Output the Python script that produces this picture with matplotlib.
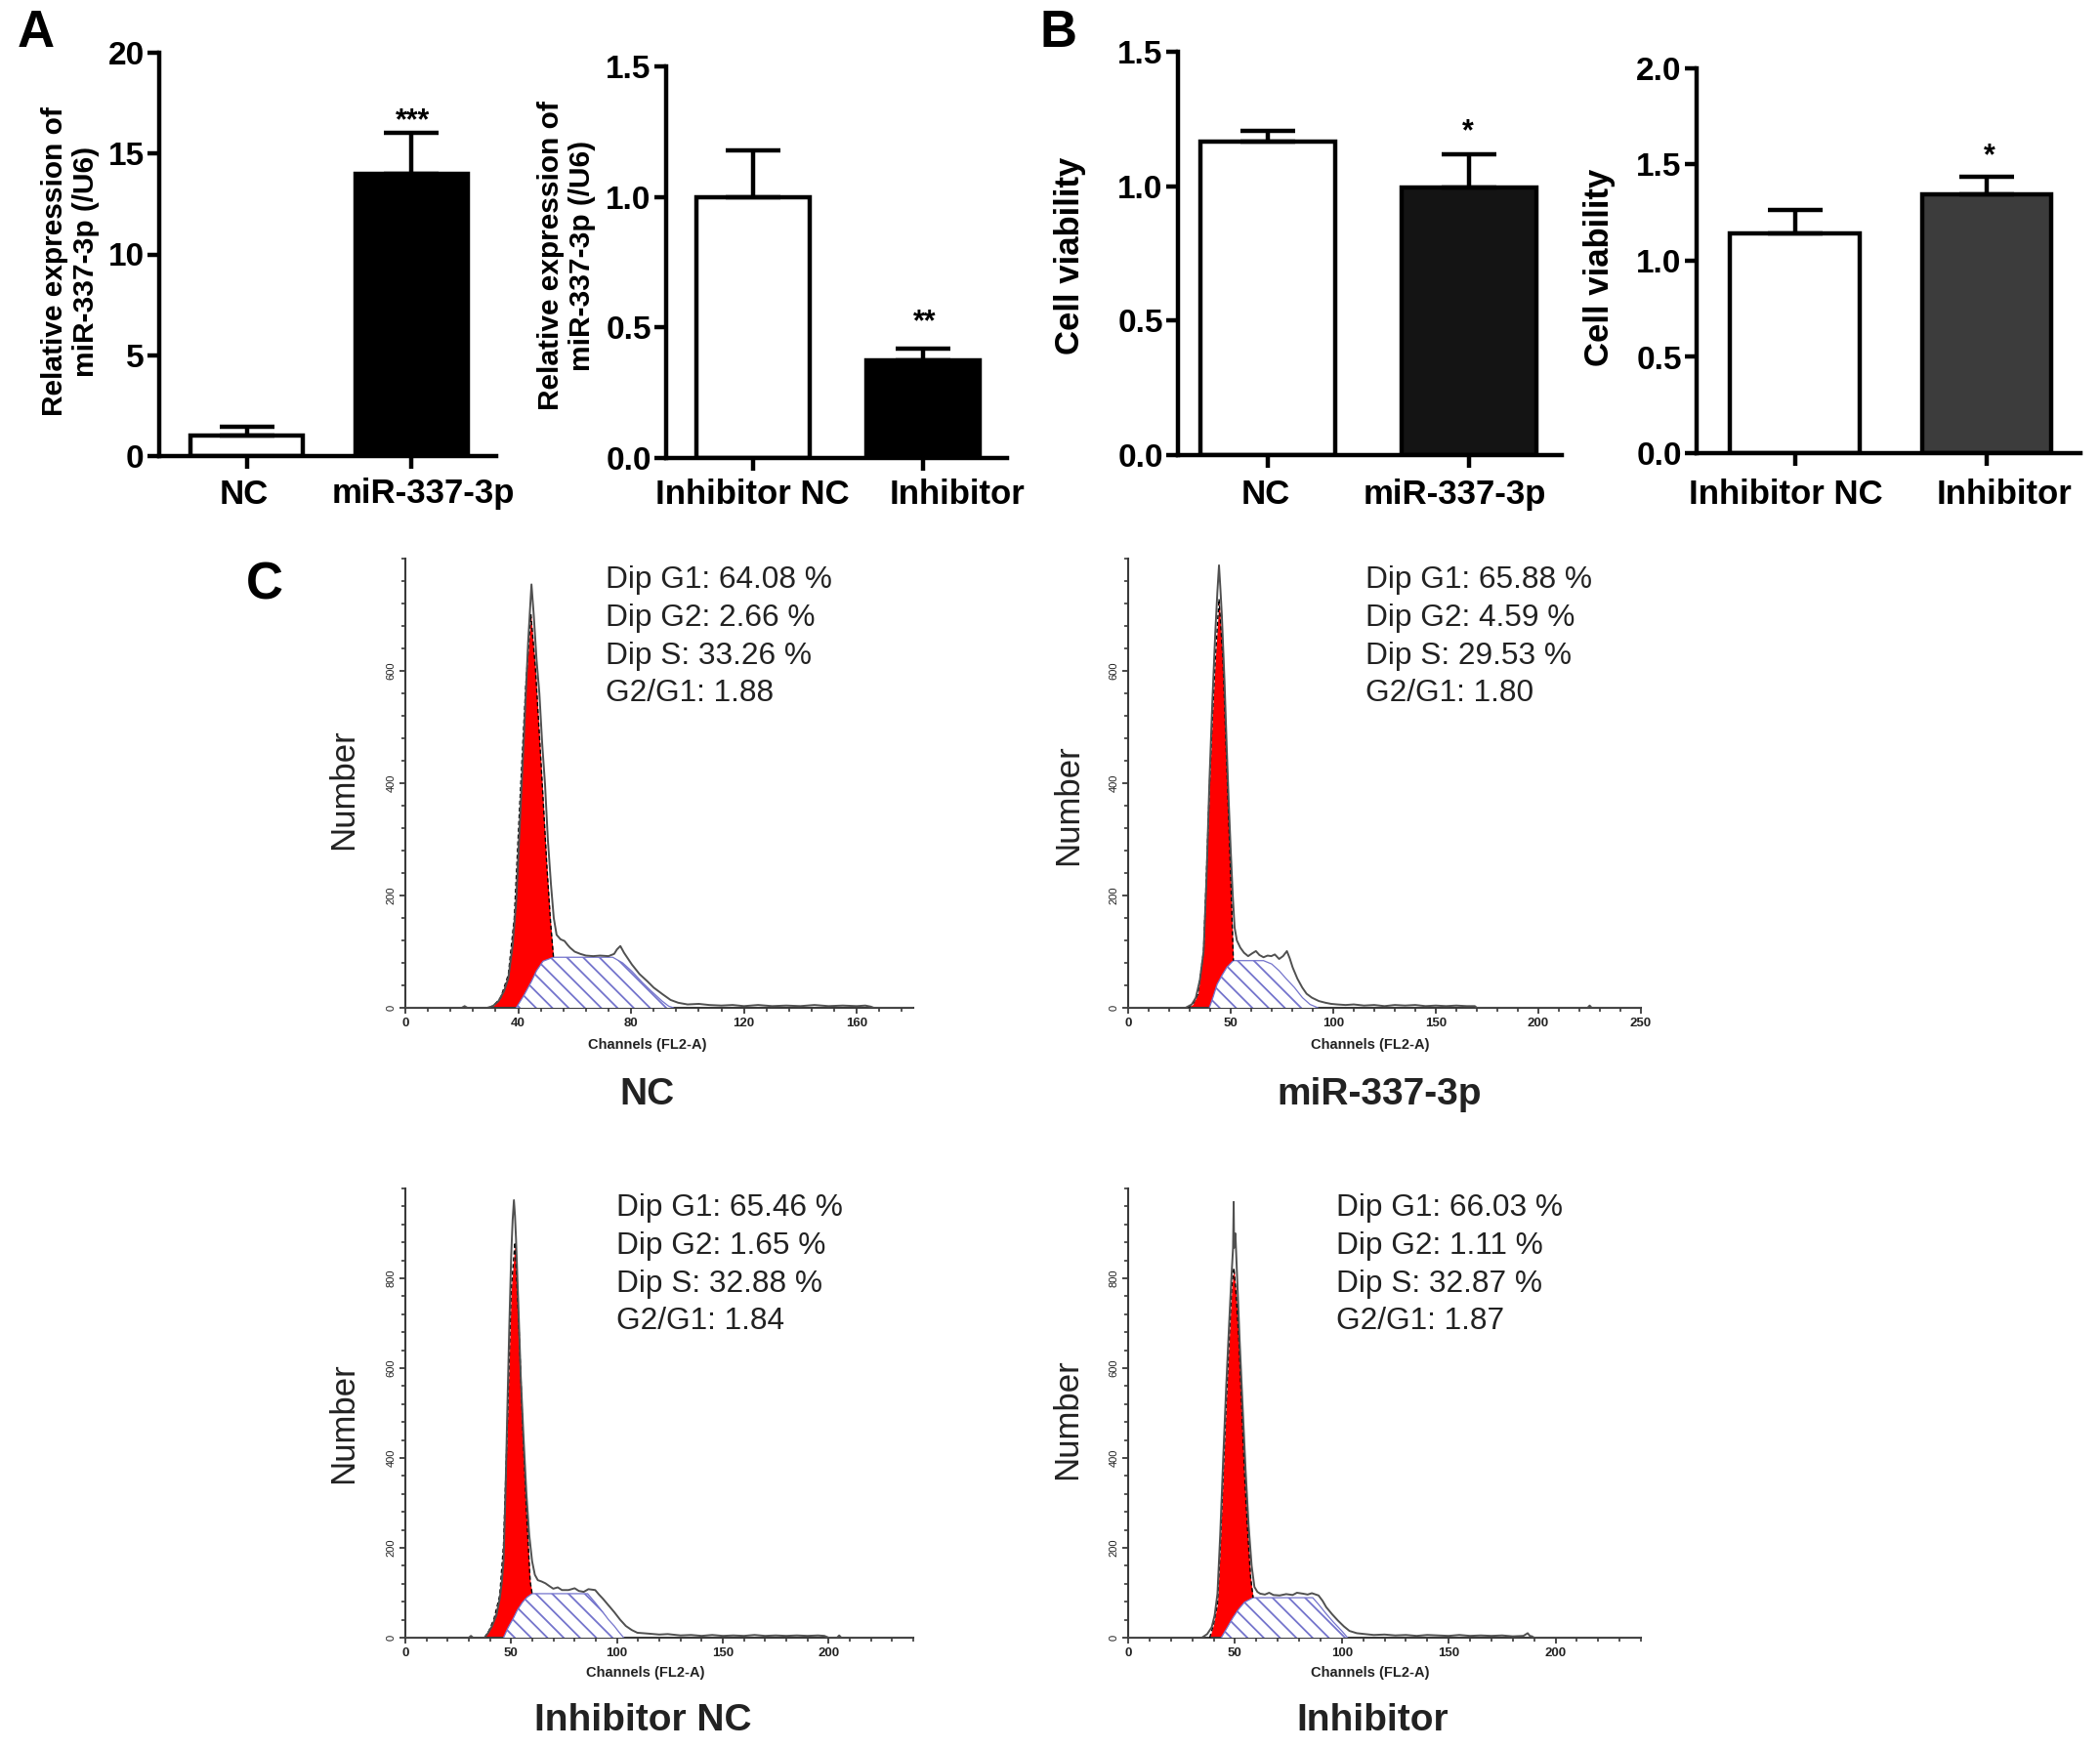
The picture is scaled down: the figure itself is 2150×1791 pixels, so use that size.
import numpy as np
import matplotlib
matplotlib.use("Agg")
import matplotlib.pyplot as plt
from matplotlib.ticker import MultipleLocator

plt.rcParams['font.family'] = ['Liberation Sans', 'DejaVu Sans']
plt.rcParams['hatch.linewidth'] = 1.3

W, H = 2150, 1791
DPI = 100

# ---------------- bar chart data ----------------
a1_labels = ["NC", "miR-337-3p"]
a1_values = [1.0, 14.0]
a1_errors = [0.45, 2.05]

a2_labels = ["Inhibitor NC", "Inhibitor"]
a2_values = [1.0, 0.375]
a2_errors = [0.18, 0.045]

b1_labels = ["NC", "miR-337-3p"]
b1_values = [1.165, 0.995]
b1_errors = [0.04, 0.125]

b2_labels = ["Inhibitor NC", "Inhibitor"]
b2_values = [1.14, 1.345]
b2_errors = [0.125, 0.09]

# ---------------- flow cytometry data ----------------
c1_obs_x = [0, 20, 21, 22, 29, 31, 33, 35, 36.5, 38, 39.3, 40.6, 42, 43.5, 44.7, 45.5, 46.5, 47.5, 48.5, 49.5, 50.5, 51.6, 52.6, 53.6, 55, 56.4, 57.5, 58.4, 60, 62, 64, 66.6, 69, 72, 74, 75, 76.2, 77.5, 80.3, 83, 85.8, 88, 91.2, 94, 96.7, 100, 104, 107.7, 112, 116, 120, 125, 130, 135, 140, 145, 150, 155, 160, 163, 165, 166, 180]
c1_obs_y = [0, 0, 3, 0, 0, 3, 12, 30, 53, 110, 190, 330, 480, 650, 754, 700, 620, 560, 470, 398, 300, 220, 160, 130, 122, 119, 112, 107, 100, 96, 93, 92, 93, 92, 96, 104, 110, 98, 77, 60, 47, 36, 24, 14, 9, 6, 7, 5, 4, 5, 3, 5, 3, 4, 3, 5, 3, 4, 3, 4, 2, 0, 0]
c1_g1_x = [29.7, 31.5, 33.8, 36.5, 38.6, 40.6, 42.7, 44.5, 46.1, 48.2, 50.2, 51.5, 52.5]
c1_g1_y = [0, 5, 18, 59, 160, 368, 576, 700, 605, 427, 249, 150, 90]
c1_s_x = [39.3, 42, 44.7, 46.5, 48.8, 52.5, 73.5, 77, 80.3, 84, 87.1, 91, 93.3, 95]
c1_s_y = [0, 22, 47, 66, 83, 90, 90, 80, 65, 45, 30, 12, 3, 0]

c2_obs_x = [0, 28, 29, 31, 33, 35, 36.8, 38.2, 39.6, 41, 42.5, 43.5, 44.3, 45, 45.7, 47, 48.1, 49, 50, 51, 51.9, 53, 54.7, 56.5, 58.5, 60.5, 62.3, 64, 66, 68, 69.8, 71.5, 73.6, 75.5, 77.4, 78.8, 80.2, 82.5, 84.9, 87, 89.6, 93, 96.2, 99, 102, 106, 110, 115, 120, 125, 130, 135, 140, 145, 150, 155, 160, 165, 169, 170, 224, 225, 226, 250]
c2_obs_y = [0, 0, 2, 6, 18, 50, 101, 230, 400, 540, 669, 740, 788, 745, 698, 580, 460, 370, 281, 200, 143, 120, 107, 98, 92, 97, 101, 94, 90, 93, 92, 95, 87, 92, 101, 88, 72, 52, 36, 25, 18, 12, 9, 7, 6, 5, 6, 4, 5, 3, 5, 4, 5, 3, 4, 3, 4, 3, 3, 0, 0, 4, 0, 0]
c2_g1_x = [29, 31.5, 34, 36.8, 38.2, 39.6, 41, 42.5, 44.3, 46.2, 48.1, 50, 51.3]
c2_g1_y = [0, 6, 24, 101, 240, 388, 510, 621, 728, 621, 430, 233, 84]
c2_s_x = [39.6, 41.5, 43.4, 45.8, 48.1, 51.3, 66, 70, 73.6, 77, 81.1, 85, 88.7, 92.5]
c2_s_y = [0, 20, 42, 58, 72, 84, 84, 78, 66, 52, 36, 18, 6, 0]

c3_obs_x = [0, 30, 31, 32, 37.4, 39, 41, 43, 44.6, 45.5, 46.4, 47.3, 48.2, 49.1, 50, 50.7, 51.3, 51.8, 52.3, 53.4, 54.5, 55.8, 57.2, 58.5, 59.9, 61.2, 62.6, 64.4, 66.2, 68, 69.9, 72, 74, 77.1, 80, 82, 84.3, 86.5, 89.7, 91.5, 93.3, 96, 98.7, 101.5, 104.2, 107, 109.6, 115, 120, 124, 130, 135, 140, 145, 150, 155, 160, 165, 170, 175, 180, 185, 190, 195, 198, 200, 204, 205, 206, 240]
c3_obs_y = [0, 0, 4, 0, 0, 10, 26, 50, 87, 120, 170, 320, 510, 690, 849, 930, 974, 940, 887, 740, 585, 450, 321, 230, 170, 140, 128, 125, 121, 115, 109, 112, 106, 106, 110, 104, 102, 108, 106, 96, 87, 72, 57, 40, 26, 17, 11, 9, 7, 8, 5, 6, 4, 6, 4, 5, 4, 6, 4, 5, 4, 5, 4, 5, 4, 0, 0, 5, 0, 0]
c3_g1_x = [37.4, 39.5, 41.9, 44.6, 46.4, 48.2, 50, 51.8, 53.6, 55.4, 57.2, 59, 59.9]
c3_g1_y = [0, 15, 42, 94, 208, 472, 774, 880, 698, 472, 283, 125, 98]
c3_s_x = [46.4, 48.5, 50.9, 53, 55.4, 57.5, 59.9, 86.1, 89.7, 93.3, 96, 98.7, 101, 103.2]
c3_s_y = [0, 22, 42, 62, 79, 90, 98, 98, 78, 57, 40, 26, 12, 0]

c4_obs_x = [0, 34.5, 37, 39.1, 40.5, 41.8, 43.1, 44.5, 45.9, 47.3, 48.2, 49.1, 49.4, 49.6, 50.2, 50.9, 52.2, 53.6, 55, 56.4, 57.8, 59.1, 60.5, 61.8, 64, 66, 68, 70.9, 74, 77, 79, 81.8, 84, 86, 89.1, 91, 92.7, 95.5, 98.2, 101, 103.6, 107, 110.9, 115, 120, 125, 130, 135, 140, 145, 150, 155, 160, 165, 170, 175, 180, 185, 187, 188, 189, 190, 240]
c4_obs_y = [0, 0, 8, 23, 50, 98, 230, 400, 560, 702, 790, 868, 970, 868, 900, 815, 660, 513, 370, 249, 160, 113, 102, 98, 96, 100, 95, 94, 97, 95, 100, 98, 96, 99, 94, 82, 68, 52, 38, 25, 15, 10, 8, 6, 7, 5, 6, 4, 6, 5, 4, 6, 4, 5, 4, 5, 3, 4, 10, 4, 3, 0, 0]
c4_g1_x = [38.2, 40, 41.8, 43.1, 44.5, 45.9, 47.3, 48.5, 49.5, 50.6, 51.8, 53.1, 54.5, 55.9, 57.3, 58.5]
c4_g1_y = [0, 30, 75, 200, 362, 520, 664, 780, 823, 760, 664, 520, 362, 240, 136, 89]
c4_s_x = [43.6, 46.3, 49.1, 51.8, 54.5, 58.5, 86.4, 89.5, 92.7, 96, 100, 102.7]
c4_s_y = [0, 22, 45, 64, 79, 89, 89, 72, 53, 35, 15, 0]

c_stats = [
    ["Dip G1: 64.08 %", "Dip G2: 2.66 %", "Dip S: 33.26 %", "G2/G1: 1.88"],
    ["Dip G1: 65.88 %", "Dip G2: 4.59 %", "Dip S: 29.53 %", "G2/G1: 1.80"],
    ["Dip G1: 65.46 %", "Dip G2: 1.65 %", "Dip S: 32.88 %", "G2/G1: 1.84"],
    ["Dip G1: 66.03 %", "Dip G2: 1.11 %", "Dip S: 32.87 %", "G2/G1: 1.87"],
]
c_titles = ["NC", "miR-337-3p", "Inhibitor NC", "Inhibitor"]

fig = plt.figure(figsize=(W / DPI, H / DPI), dpi=DPI)
fig.patch.set_facecolor("white")


def add_ax(l, r, b, t):
    return fig.add_axes([l / W, 1 - b / H, (r - l) / W, (b - t) / H])


def ftext(x, y, s, **kw):
    fig.text(x / W, 1 - y / H, s, **kw)


# ---------------- bar panels ----------------
def bar_panel(box, values, errors, colors, xlim, ymax, ystep, fmt, width):
    ax = add_ax(*box)
    xs = np.arange(len(values))
    ax.bar(xs, values, width=width, color=colors, edgecolor="black",
           linewidth=3.2, zorder=2)
    ax.errorbar(xs, values, yerr=[np.zeros(len(errors)), errors], fmt="none",
                ecolor="black", elinewidth=3.2, capsize=20, capthick=3.2, zorder=3)
    ax.set_xlim(*xlim)
    ax.set_ylim(0, ymax)
    for s in ["top", "right"]:
        ax.spines[s].set_visible(False)
    for s in ["left", "bottom"]:
        ax.spines[s].set_linewidth(3.2)
    ticks = np.arange(0, ymax + ystep / 2, ystep)
    ax.set_yticks(ticks)
    ax.set_yticklabels([fmt.format(v) for v in ticks], fontsize=24, fontweight="bold")
    ax.set_xticks(xs)
    ax.set_xticklabels([])
    ax.tick_params(axis="both", direction="out", length=9, width=3.2, pad=2)
    ax.patch.set_alpha(0)
    return ax


bar_panel((163, 508, 467, 54), a1_values, a1_errors, ["white", "black"],
          (-0.53, 1.512), 20, 5, "{:.0f}", 0.686)
bar_panel((682, 1031, 469, 68), a2_values, a2_errors, ["white", "black"],
          (-0.511, 1.494), 1.5, 0.5, "{:.1f}", 0.667)
bar_panel((1206, 1599, 466, 53), b1_values, b1_errors, ["white", "#141414"],
          (-0.447, 1.461), 1.5, 0.5, "{:.1f}", 0.67)
bar_panel((1737, 2130, 464, 70), b2_values, b2_errors, ["white", "#3c3c3c"],
          (-0.511, 1.486), 2.0, 0.5, "{:.1f}", 0.672)

lab_kw = dict(fontsize=25, fontweight="bold", ha="center", va="center")
ftext(250, 506, a1_labels[0], **lab_kw)
ftext(433, 506, a1_labels[1], **lab_kw)
ftext(770, 507, a2_labels[0], **lab_kw)
ftext(980, 507, a2_labels[1], **lab_kw)
ftext(1296, 507, b1_labels[0], **lab_kw)
ftext(1489, 507, b1_labels[1], **lab_kw)
ftext(1828, 507, b2_labels[0], **lab_kw)
ftext(2052, 507, b2_labels[1], **lab_kw)

yl_kw = dict(fontsize=21.5, fontweight="bold", ha="center", va="center",
             rotation=90, linespacing=1.2)
ftext(72, 268, "Relative expression of\nmiR-337-3p (/U6)", **yl_kw)
ftext(580, 262, "Relative expression of\nmiR-337-3p (/U6)", **yl_kw)
ftext(1096, 262, "Cell viability", fontsize=25, fontweight="bold", ha="center",
      va="center", rotation=90)
ftext(1637, 274, "Cell viability", fontsize=25, fontweight="bold", ha="center",
      va="center", rotation=90)

star_kw = dict(fontsize=22, fontweight="bold", ha="center", va="center")
ftext(423, 124, "***", **star_kw)
ftext(947, 330, "**", **star_kw)
ftext(1503, 135, "*", **star_kw)
ftext(2037, 160, "*", **star_kw)

# ---------------- flow panels ----------------
hatch_col = "#7474cc"
axis_col = "#3a3a3a"


def flow_panel(box, ox, oy, gx, gy, sx, sy, xmax, ymax, xmaj, xmin):
    ax = add_ax(*box)
    ax.fill_between(gx, 0, gy, color="#ff0000", linewidth=0, zorder=2)
    ax.plot(gx, gy, color="black", lw=1.0, ls=(0, (3, 2)), zorder=4)
    ax.fill_between(sx, 0, sy, facecolor="white", edgecolor=hatch_col,
                    hatch="\\\\", linewidth=0, zorder=3)
    ax.plot(sx, sy, color=hatch_col, lw=0.9, zorder=3)
    ax.plot(ox, oy, color="#505050", lw=1.4, zorder=5)
    ax.set_xlim(0, xmax)
    ax.set_ylim(0, ymax)
    for s in ["top", "right"]:
        ax.spines[s].set_visible(False)
    for s in ["left", "bottom"]:
        ax.spines[s].set_linewidth(1.5)
        ax.spines[s].set_color(axis_col)
    ax.xaxis.set_major_locator(MultipleLocator(xmaj))
    ax.xaxis.set_minor_locator(MultipleLocator(xmin))
    ax.yaxis.set_major_locator(MultipleLocator(200))
    ax.yaxis.set_minor_locator(MultipleLocator(40))
    ax.tick_params(axis="both", which="major", direction="out", length=4,
                   width=1.3, color=axis_col, pad=3)
    ax.tick_params(axis="both", which="minor", direction="out", length=3,
                   width=1.2, color=axis_col)
    xt = [t for t in np.arange(0, xmax + 1, xmaj) if t <= xmax - xmaj * 0.3 or t == xmax]
    ax.set_xticks(xt)
    ax.set_xticklabels([f"{int(t)}" for t in xt], fontsize=9.5, fontweight="bold",
                       color="#222")
    yt = [t for t in np.arange(0, ymax - 100, 200)]
    ax.set_yticks(yt)
    ax.set_yticklabels([f"{int(t)}" for t in yt], fontsize=8, rotation=90,
                       va="center", color="#222")
    ax.patch.set_alpha(0)
    return ax


flow_panel((415, 935, 1032, 572), c1_obs_x, c1_obs_y, c1_g1_x, c1_g1_y,
           c1_s_x, c1_s_y, 180, 800, 40, 8)
flow_panel((1155, 1680, 1032, 572), c2_obs_x, c2_obs_y, c2_g1_x, c2_g1_y,
           c2_s_x, c2_s_y, 250, 800, 50, 10)
flow_panel((415, 935, 1677, 1217), c3_obs_x, c3_obs_y, c3_g1_x, c3_g1_y,
           c3_s_x, c3_s_y, 240, 1000, 50, 10)
flow_panel((1155, 1680, 1677, 1217), c4_obs_x, c4_obs_y, c4_g1_x, c4_g1_y,
           c4_s_x, c4_s_y, 240, 1000, 50, 10)

chan_kw = dict(fontsize=10.5, fontweight="bold", ha="center", va="center", color="#222")
ftext(663, 1070, "Channels (FL2-A)", **chan_kw)
ftext(1403, 1070, "Channels (FL2-A)", **chan_kw)
ftext(661, 1713, "Channels (FL2-A)", **chan_kw)
ftext(1403, 1713, "Channels (FL2-A)", **chan_kw)

num_kw = dict(fontsize=25, ha="center", va="center", rotation=90, color="#222")
ftext(352, 808, "Number", **num_kw)
ftext(1094, 824, "Number", **num_kw)
ftext(352, 1457, "Number", **num_kw)
ftext(1093, 1453, "Number", **num_kw)

stat_pos = [(620, 594), (1398, 594), (631, 1237), (1368, 1237)]
for (sx0, sy0), lines in zip(stat_pos, c_stats):
    for i, line in enumerate(lines):
        ftext(sx0, sy0 + i * 38.8, line, fontsize=22.8, ha="left", va="center",
              color="#222")

title_pos = [(662, 1121), (1412, 1121), (658, 1762), (1405, 1762)]
for (tx, ty), t in zip(title_pos, c_titles):
    ftext(tx, ty, t, fontsize=28, fontweight="bold", ha="center", va="center",
          color="#222")

# panel letters
let_kw = dict(fontsize=38, fontweight="bold", ha="center", va="center")
ftext(37, 34, "A", **let_kw)
ftext(1083, 34, "B", **let_kw)
ftext(271, 600, "C", **let_kw)

fig.savefig("out.png", dpi=DPI, facecolor="white")
